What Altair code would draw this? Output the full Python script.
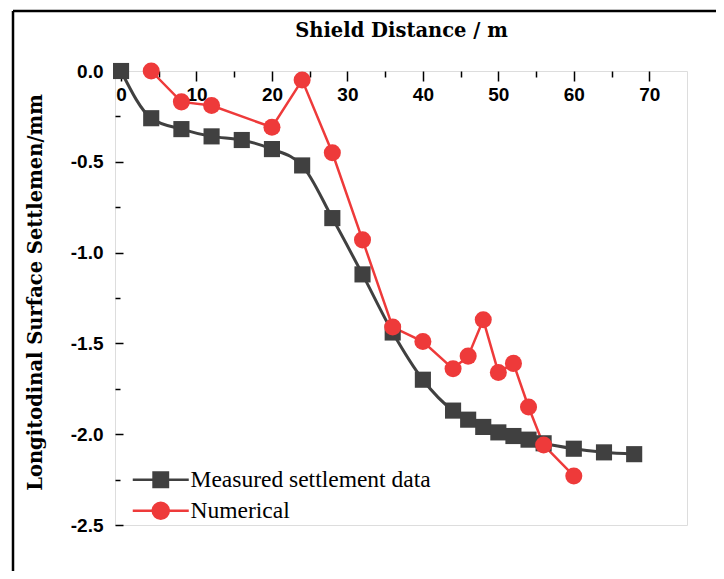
import altair as alt
import pandas as pd

# ---- data ----
series_names = ["Measured settlement data", "Numerical"]
measured_x = [0, 4, 8, 12, 16, 20, 24, 28, 32, 36, 40, 44, 46, 48, 50, 52, 54, 56, 60, 64, 68]
measured_y = [0.0, -0.26, -0.32, -0.36, -0.38, -0.43, -0.52, -0.81, -1.12, -1.44, -1.70,
              -1.87, -1.92, -1.96, -1.99, -2.01, -2.03, -2.05, -2.08, -2.10, -2.11]
numerical_x = [4, 8, 12, 20, 24, 28, 32, 36, 40, 44, 46, 48, 50, 52, 54, 56, 60]
numerical_y = [0.0, -0.17, -0.19, -0.31, -0.05, -0.45, -0.93, -1.41, -1.49, -1.64,
               -1.57, -1.37, -1.66, -1.61, -1.85, -2.06, -2.23]
x_ticks = [0, 5, 10, 15, 20, 25, 30, 35, 40, 45, 50, 55, 60, 65, 70]
y_ticks = [0.0, -0.25, -0.5, -0.75, -1.0, -1.25, -1.5, -1.75, -2.0, -2.25, -2.5]

GRAY = "#404040"
RED = "#ee3a3a"
W, H = 572, 454

measured = pd.DataFrame({"x": measured_x, "y": measured_y, "series": series_names[0]})
numerical = pd.DataFrame({"x": numerical_x, "y": numerical_y, "series": series_names[1]})
legend_df = pd.DataFrame({"series": series_names})

tick_font = "Liberation Sans Narrow, Liberation Sans, Arial"
serif = "DejaVu Serif"

x_enc = alt.X(
    "x:Q",
    scale=alt.Scale(domain=[-0.8, 75], nice=False, zero=False),
    axis=alt.Axis(
        orient="bottom", offset=-H, values=x_ticks, domain=False, grid=False,
        tickColor="black", tickWidth=1.5,
        tickSize={"condition": {"test": "datum.value % 10 === 0", "value": 10}, "value": 6},
        labelExpr="datum.value % 10 === 0 ? datum.label : ''",
        labelFont=tick_font, labelFontSize=19, labelFontWeight="bold", labelColor="black",
        labelPadding=4, labelBaseline="top",
        title="Shield Distance / m", titleFont=serif, titleFontSize=19.5,
        titleFontWeight="bold", titleColor="black", titleY=-41, titleBaseline="middle",
    ),
)
y_enc = alt.Y(
    "y:Q",
    scale=alt.Scale(domain=[-2.5, 0], nice=False, zero=False),
    axis=alt.Axis(
        orient="right", offset=-W, values=y_ticks, domain=False, grid=False,
        tickColor="black", tickWidth=1.5,
        tickSize={"condition": {"test": "abs(datum.value * 2) % 1 === 0", "value": 8}, "value": 5},
        labelExpr="abs(datum.value * 2) % 1 === 0 ? ((datum.value < 0 ? '-' : '') + format(abs(datum.value), '.1f')) : ''",
        labelFont=tick_font, labelFontSize=19, labelFontWeight="bold", labelColor="black",
        labelAlign="right", labelPadding=-20, labelBaseline="middle",
        title="Longitodinal Surface Settlemen/mm", titleFont=serif, titleFontSize=19.5,
        titleFontWeight="bold", titleColor="black", titleAngle=270, titleX=-80, titleY=H / 2 - 6,
        titleAlign="center", titleBaseline="middle",
    ),
)

m_line = alt.Chart(measured).mark_line(color=GRAY, strokeWidth=3, interpolate="monotone").encode(x=x_enc, y=y_enc)
m_pts = alt.Chart(measured).mark_point(shape="square", filled=True, size=260, color=GRAY, opacity=1).encode(x=x_enc, y=y_enc)
n_line = alt.Chart(numerical).mark_line(color=RED, strokeWidth=2.5).encode(x=x_enc, y=y_enc)
n_pts = alt.Chart(numerical).mark_point(shape="circle", filled=True, size=290, color=RED, opacity=1).encode(x=x_enc, y=y_enc)

sq_path = "M-3.5,0H-1M1,0H3.5M-0.9,-0.9H0.9V0.9H-0.9Z"
ci_path = "M-3.5,0H-1M1,0H3.5M-1,0A1,1,0,1,0,1,0A1,1,0,1,0,-1,0Z"
legend = alt.Legend(
    title=None, orient="none", legendX=34, legendY=397, padding=0,
    labelFont="Liberation Serif", labelFontSize=23.5, labelColor="black", labelLimit=0,
    symbolSize=256, symbolStrokeWidth=2.5, labelOffset=18, rowPadding=5,
)
col_scale = alt.Scale(domain=series_names, range=[GRAY, RED])
leg_layer = alt.Chart(legend_df).mark_point(opacity=1).encode(
    x=alt.value(-3000), y=alt.value(-3000),
    fill=alt.Fill("series:N", scale=col_scale, legend=legend),
    stroke=alt.Stroke("series:N", scale=col_scale, legend=legend),
    shape=alt.Shape("series:N", scale=alt.Scale(domain=series_names, range=[sq_path, ci_path]), legend=legend),
)

frame_v = alt.Chart(alt.Data(values=[{}])).mark_rule(color="black", strokeWidth=2.5).encode(
    x=alt.value(-102), y=alt.value(-60), y2=alt.value(H + 80))
frame_h = alt.Chart(alt.Data(values=[{}])).mark_rule(color="black", strokeWidth=2.5).encode(
    x=alt.value(-102), x2=alt.value(W + 60), y=alt.value(-60))

chart = alt.layer(frame_v, frame_h, m_line, n_line, m_pts, n_pts, leg_layer).properties(
    width=W, height=H,
    padding={"left": 107, "top": 63, "right": 29, "bottom": 46},
    autosize=alt.AutoSizeParams(type="none"),
).configure_view(stroke="#111", strokeWidth=2).configure(background="white")

chart.save("out.html", embed_options={"renderer": "svg", "actions": False})
